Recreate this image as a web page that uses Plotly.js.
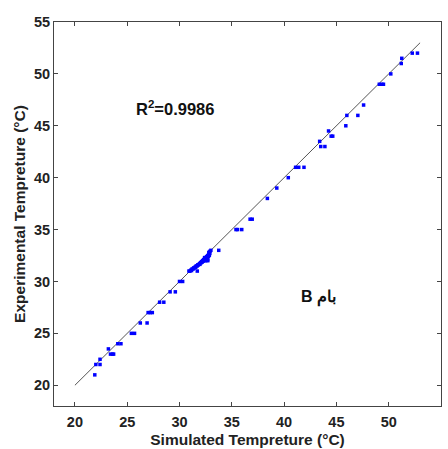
<!DOCTYPE html>
<html><head><meta charset="utf-8">
<script src="https://cdn.plot.ly/plotly-3.0.1.min.js"></script>
<style>body{margin:0;background:#fff}#c{width:448px;height:449px}</style>
</head><body><div id="c"></div>
<script>
const simX = [21.9,22.0,22.4,22.4,23.2,23.4,23.6,23.7,24.1,24.4,25.4,25.7,26.25,26.9,27.0,27.2,27.4,28.1,28.5,29.1,29.6,30.0,30.3,
30.9,31.0,31.1,31.15,31.2,31.3,31.35,31.4,31.5,31.55,31.6,31.7,31.75,31.8,31.9,31.95,32.0,32.05,32.1,32.15,32.2,32.25,32.3,32.35,32.4,32.45,32.5,32.55,32.6,32.65,32.7,32.75,32.8,32.85,32.9,32.5,32.6,32.7,32.8,32.4,31.7,32.7,32.9,33.0,33.75,
35.4,35.55,35.95,36.75,36.95,38.4,39.3,40.4,41.1,41.4,41.9,43.4,43.5,43.9,44.25,44.5,44.65,45.9,46.0,47.05,47.6,49.1,49.35,49.5,50.2,51.2,51.25,52.25,52.75];
const expY = [21.0,22.0,22.0,22.5,23.5,23.0,23.0,23.0,24.0,24.0,25.0,25.0,26.0,26.0,27.0,27.0,27.0,28.0,28.0,29.0,29.0,30.0,30.0,
31.0,31.0,31.1,31.05,31.2,31.2,31.3,31.3,31.4,31.35,31.5,31.5,31.6,31.6,31.7,31.65,31.8,31.8,31.9,31.85,32.0,31.95,32.1,32.0,32.2,32.1,32.3,32.2,32.4,32.3,32.5,32.4,32.6,32.5,32.7,32.0,32.1,32.0,32.8,32.3,31.0,32.1,32.9,33.0,33.0,
35.0,35.0,35.0,36.0,36.0,38.0,39.0,40.0,41.0,41.0,41.0,43.5,43.0,43.0,44.5,44.0,44.0,45.0,46.0,46.0,47.0,49.0,49.0,49.0,50.0,51.0,51.5,52.0,52.0];
const lineX = [20, 53];
const lineY = [20, 53];
const tickVals = [20,25,30,35,40,45,50,55];
const r2Label = 'R<sup>2</sup>=0.9986';
const panelLabel = 'B بام';

const F = 'Arial, "Liberation Sans", sans-serif';
const data = [
  {x: lineX, y: lineY, mode: 'lines', line: {color: '#555555', width: 1}, hoverinfo: 'none'},
  {x: simX, y: expY, mode: 'markers', marker: {color: '#0000ff', size: 3.5, symbol: 'square'}}
];
const axBase = {
  range: [18, 55], tickvals: tickVals, ticks: 'inside', ticklen: 4, tickcolor: '#444',
  mirror: 'ticks', showline: true, linecolor: '#444', linewidth: 1, showgrid: false, zeroline: false,
  tickfont: {family: F, size: 14.5, color: '#222', weight: 'bold'}
};
const layout = {
  width: 448, height: 449, showlegend: false,
  paper_bgcolor: '#fff', plot_bgcolor: '#fff',
  margin: {l: 54, r: 7, t: 22, b: 43},
  xaxis: Object.assign({}, axBase, {ticklabelstandoff: 3, title: {text: 'Simulated Tempreture (°C)', standoff: 4, font: {family: F, size: 15.5, color: '#222', weight: 'bold'}}}),
  yaxis: Object.assign({}, axBase, {title: {text: 'Experimental Tempreture (°C)', standoff: 4, font: {family: F, size: 15.5, color: '#222', weight: 'bold'}}}),
  annotations: [
    {x: 29.6, y: 46.7, xref: 'x', yref: 'y', text: r2Label, showarrow: false, font: {family: F, size: 16.5, color: '#111', weight: 'bold'}},
    {x: 43.3, y: 28.5, xref: 'x', yref: 'y', text: panelLabel, showarrow: false, font: {family: F, size: 16, color: '#111', weight: 'bold'}}
  ]
};
Plotly.newPlot('c', data, layout, {displayModeBar: false, staticPlot: true});
</script></body></html>
